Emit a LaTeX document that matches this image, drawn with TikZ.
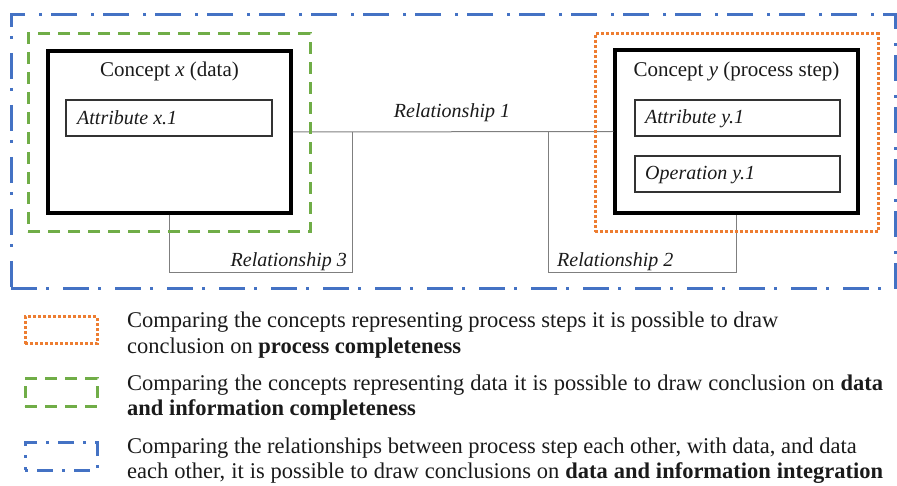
\documentclass[tikz,border=0pt]{standalone}
\usepackage{fontspec}
\setmainfont{Liberation Serif}
\usetikzlibrary{calc}
\definecolor{frameblue}{HTML}{4472C4}
\definecolor{framegreen}{HTML}{70AD47}
\definecolor{frameorange}{HTML}{ED7D31}
\definecolor{linkgray}{HTML}{7F7F7F}
\definecolor{inktext}{HTML}{1A1A1A}
\tikzset{
  integframe/.style={draw=frameblue, line width=3pt,
    dash pattern=on 26pt off 9pt on 3pt off 14pt},
  dataframe/.style={draw=framegreen, line width=3pt,
    dash pattern=on 12pt off 8pt},
  procframe/.style={draw=frameorange, line width=3pt,
    dash pattern=on 2.6pt off 2.4pt},
  concept/.style={draw=black, line width=3.5pt, inner sep=0pt},
  attrbox/.style={draw=black!80, line width=1.2pt, inner sep=0pt,
    minimum width=205pt, minimum height=36pt},
  link/.style={draw=linkgray, line width=1pt},
  titletext/.style={text=inktext, font=\fontsize{21}{24}\selectfont, inner sep=0pt, anchor=base},
  itext/.style={text=inktext, font=\fontsize{20}{24}\selectfont\itshape, inner sep=0pt, anchor=base west},
  legline/.style={text=inktext, font=\fontsize{22.5}{25}\selectfont, inner sep=0pt,
    anchor=base west},
}
\begin{document}
\begin{tikzpicture}[x=1pt,y=-1pt]
\useasboundingbox (0,0) rectangle (897,486);

% concept boxes
\node[concept, minimum width=243pt, minimum height=162pt] (cx) at (169.5,132) {};
\node[concept, minimum width=243pt, minimum height=163pt] (cy) at (736.5,131.5) {};

% attribute / operation boxes
\node[attrbox, minimum width=206pt] (ax) at (169,118) {};
\node[attrbox] (ay) at (737.5,118) {};
\node[attrbox] (oy) at (737.5,174) {};

% texts
\node[titletext] (cxt) at (169.5,77) {Concept \textit{x} (data)};
\node[titletext] (cyt) at (736.5,77) {Concept \textit{y} (process step)};
\node[itext] (axt) at (77,125) {Attribute x.1};
\node[itext] (ayt) at (645,124) {Attribute y.1};
\node[itext] (oyt) at (645,180) {Operation y.1};

% relationship connectors
\coordinate (j3) at (352,132);
\coordinate (b3) at (352,273);
\coordinate (j2) at (548,132);
\coordinate (b2) at (548,273);
\draw[link] (cx.east) -- (cy.west);
\draw[link] (cx.south) |- (b3) -- (j3);
\draw[link] (j2) -- (b2) -| (cy.south);

\node[itext, anchor=base] (r1) at (452,118) {Relationship 1};
\node[itext, anchor=base east] (r3) at (347,267) {Relationship 3};
\node[itext] (r2) at (557,267) {Relationship 2};

% grouping frames
\node[dataframe, inner sep=0pt, minimum width=282pt, minimum height=198pt] (gx) at (169,133) {};
\node[procframe, inner sep=0pt, minimum width=283pt, minimum height=198pt] (gy) at (736.5,133) {};
\node[integframe, inner sep=0pt, minimum width=884pt, minimum height=274pt] (gall) at (453,152) {};

% legend
\node[procframe, inner sep=0pt, minimum width=72pt, minimum height=27pt] (k1) at (61,330.5) {};
\node[dataframe, inner sep=0pt, minimum width=72pt, minimum height=28pt] (k2) at (61,392) {};
\node[integframe, dash pattern=on 3pt off 9pt on 16pt off 9pt, inner sep=0pt, minimum width=72pt, minimum height=28pt] (k3) at (61,456) {};

\node[legline] (t1a) at (127,328) {Comparing the concepts representing process steps it is possible to draw};
\node[legline] (t1b) at (127,353) {conclusion on \textbf{process completeness}};
\node[legline] (t2a) at (127,390) {\makebox[756pt][s]{Comparing the concepts representing data it is possible to draw conclusion on \textbf{data}}};
\node[legline] (t2b) at (127,415) {\textbf{and information completeness}};
\node[legline] (t3a) at (127,453) {Comparing the relationships between process step each other, with data, and data};
\node[legline] (t3b) at (127,478) {\makebox[756pt][s]{each other, it is possible to draw conclusions on \textbf{data and information integration}}};
\end{tikzpicture}
\end{document}
